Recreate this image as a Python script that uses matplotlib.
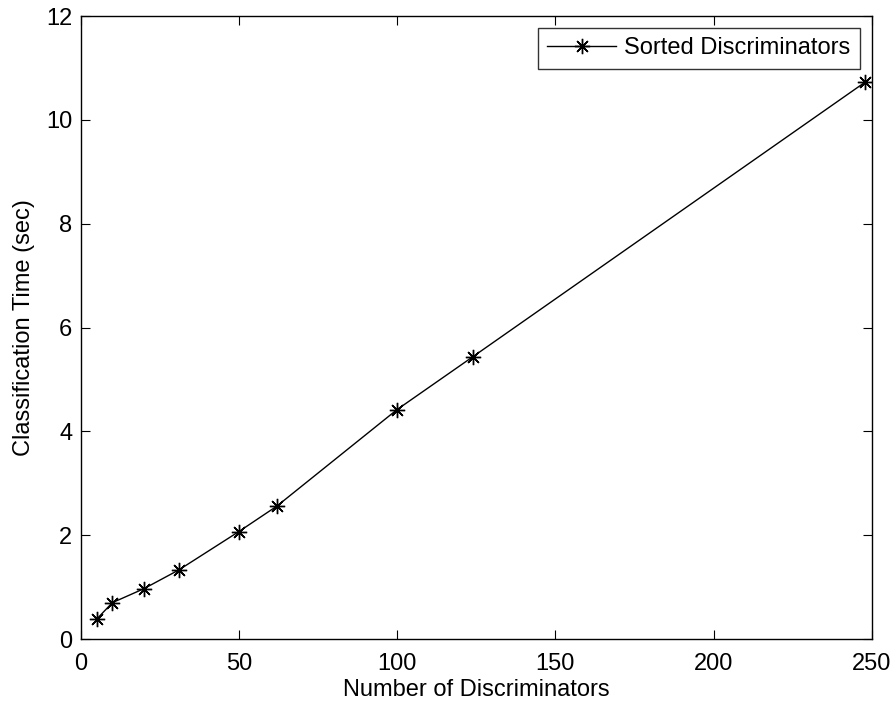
import matplotlib
matplotlib.use("Agg")
import matplotlib.pyplot as plt

# Classification time versus number of discriminators
num_discriminators = [5, 10, 20, 31, 50, 62, 100, 124, 248]
class_time_sec = [0.38, 0.70, 0.97, 1.33, 2.07, 2.56, 4.42, 5.44, 10.73]
x_ticks = [0, 50, 100, 150, 200, 250]
y_ticks = [0, 2, 4, 6, 8, 10, 12]

plt.rcParams["font.family"] = ["Liberation Sans", "DejaVu Sans"]
plt.rcParams["font.size"] = 17

fig = plt.figure(figsize=(8.96, 7.06), dpi=100)
ax = fig.add_axes([0.0901, 0.0949, 0.9729 - 0.0901, 0.9773 - 0.0949])

asterisk = (8, 2, 0)
ax.plot(num_discriminators, class_time_sec, color="black", linewidth=1.0,
        marker=asterisk, markersize=11, markeredgewidth=1.0,
        label="Sorted Discriminators")

ax.set_xlim(0, 250)
ax.set_ylim(0, 12)
ax.set_xticks(x_ticks)
ax.set_yticks(y_ticks)
ax.tick_params(direction="in", length=6.5, width=0.8, top=True, right=True,
               labelsize=17)
ax.tick_params(axis="x", pad=10)
ax.tick_params(axis="y", pad=6)
for s in ax.spines.values():
    s.set_linewidth(1.0)

ax.set_xlabel("Number of Discriminators", fontsize=17, labelpad=3)
ax.set_ylabel("Classification Time (sec)", fontsize=17, labelpad=8)

leg = ax.legend(loc="upper right", frameon=True, fancybox=False,
                edgecolor="black", handlelength=2.9, handletextpad=0.35,
                borderpad=0.4, borderaxespad=0.5, fontsize=17)
leg.get_frame().set_linewidth(1.0)

fig.savefig("out.png", dpi=100)
